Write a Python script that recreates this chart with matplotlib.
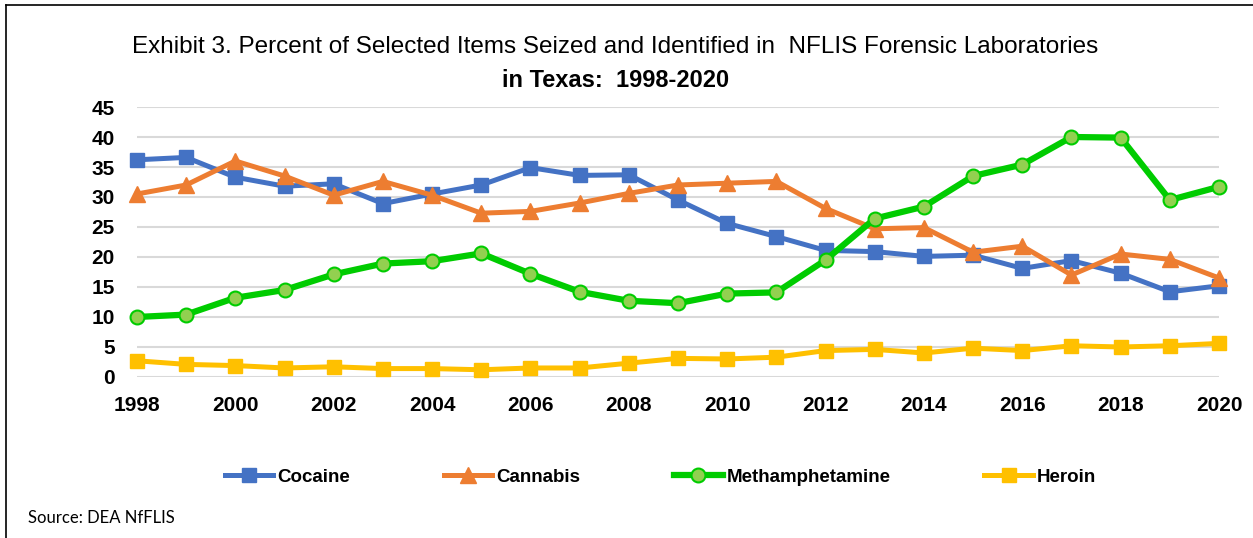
import numpy as np
import matplotlib.pyplot as plt
from matplotlib.lines import Line2D

years = list(range(1998, 2021))
cocaine = [36.2, 36.6, 33.3, 31.8, 32.2, 28.9, 30.5, 32.0, 34.9, 33.6, 33.7, 29.5,
           25.6, 23.4, 21.1, 20.9, 20.1, 20.3, 18.1, 19.4, 17.3, 14.2, 15.2]
cannabis = [30.5, 32.0, 36.0, 33.5, 30.3, 32.6, 30.3, 27.3, 27.6, 29.0, 30.6, 32.0,
            32.3, 32.6, 28.1, 24.7, 24.9, 20.8, 21.8, 17.0, 20.5, 19.6, 16.5]
meth = [10.0, 10.4, 13.2, 14.5, 17.1, 18.9, 19.3, 20.6, 17.2, 14.2, 12.7, 12.3,
        13.9, 14.1, 19.5, 26.4, 28.4, 33.5, 35.4, 40.0, 39.9, 29.5, 31.7]
heroin = [2.7, 2.1, 1.9, 1.5, 1.7, 1.4, 1.4, 1.2, 1.5, 1.5, 2.3, 3.1,
          3.0, 3.3, 4.4, 4.6, 4.0, 4.8, 4.4, 5.2, 5.0, 5.2, 5.6]
yticks = list(range(0, 50, 5))
xticks = list(range(1998, 2021, 2))

fnt = ['Liberation Sans', 'DejaVu Sans']

fig = plt.figure(figsize=(12.53, 5.38), dpi=100)
ax = fig.add_axes([0.1093, 0.2993, 0.8636, 0.5018])

ax.plot(years, cocaine, color='#4472C4', lw=3.6, marker='s', ms=10.5, clip_on=False, zorder=3, label='Cocaine')
ax.plot(years, cannabis, color='#ED7D31', lw=3.6, marker='^', ms=11.5, clip_on=False, zorder=3, label='Cannabis')
ax.plot(years, meth, color='#00CC00', lw=4.5, marker='o', ms=10, mfc='#92D050', mec='#00CC00', mew=1.5,
        clip_on=False, zorder=3, label='Methamphetamine')
ax.plot(years, heroin, color='#FFC000', lw=3.6, marker='s', ms=10.5, clip_on=False, zorder=3, label='Heroin')

ax.set_xlim(1998, 2020)
ax.set_ylim(0, 45)
ax.set_xticks(xticks)
ax.set_yticks(yticks)
ax.grid(axis='y', color='#D9D9D9', lw=1.5)
ax.set_axisbelow(True)
for s in ax.spines.values():
    s.set_visible(False)
ax.tick_params(length=0)
ax.tick_params(axis='x', pad=14)
ax.tick_params(axis='y', pad=16)
for lab in ax.get_xticklabels() + ax.get_yticklabels():
    lab.set_family(fnt)
    lab.set_fontweight('bold')
    lab.set_fontsize(15)

fig.text(0.491, 0.912, 'Exhibit 3. Percent of Selected Items Seized and Identified in  NFLIS Forensic Laboratories',
         ha='center', va='center', fontsize=17.5, family=fnt)
fig.text(0.491, 0.851, 'in Texas:  1998-2020', ha='center', va='center', fontsize=17,
         fontweight='bold', family=fnt)

leg = fig.legend(loc='center', bbox_to_anchor=(0.527, 0.113), ncol=4, frameon=False,
                 handlelength=2.6, handletextpad=0.2, columnspacing=5.0,
                 prop={'family': fnt, 'weight': 'bold', 'size': 13.5})

fig.text(0.022, 0.037, 'Source: DEA NfFLIS', ha='left', va='center', fontsize=12, family='Lato')

# frame around the exhibit
fig.add_artist(Line2D([0.0048, 1.0], [0.991, 0.991], color='black', lw=1.2))
fig.add_artist(Line2D([0.0048, 0.0048], [0.0, 0.991], color='black', lw=1.2))

fig.savefig('out.png', dpi=100)
